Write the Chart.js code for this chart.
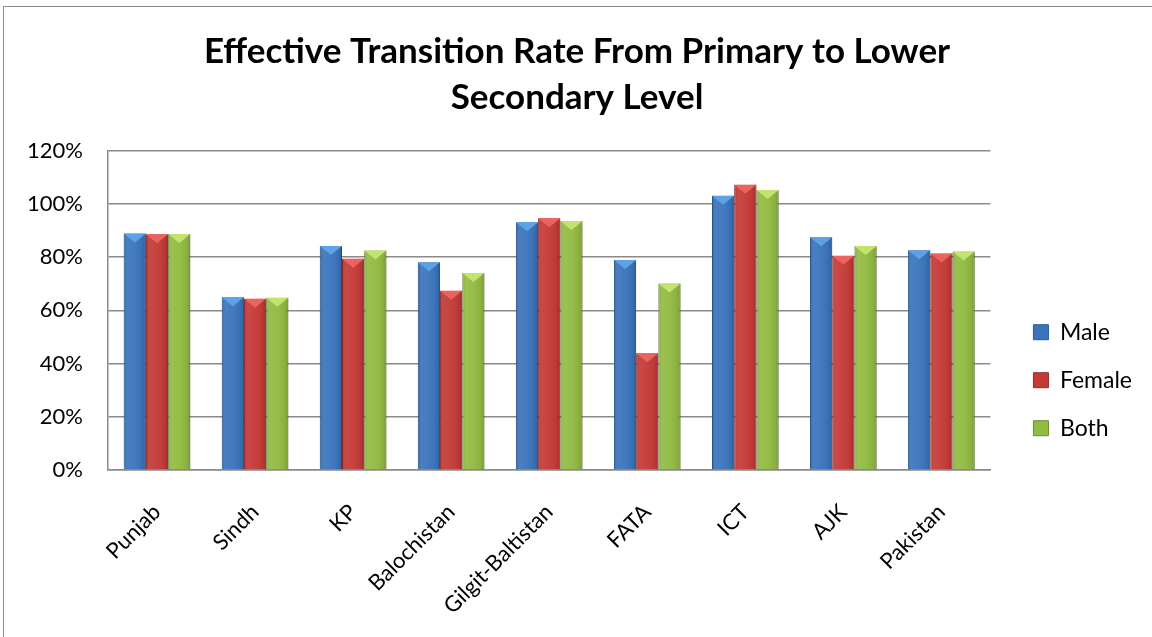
<!DOCTYPE html>
<html>
<head>
<meta charset="utf-8">
<script src="https://cdn.jsdelivr.net/npm/chart.js@4.4.1/dist/chart.umd.min.js"></script>
<style>
  html, body { margin: 0; padding: 0; background: #fff; overflow: hidden; }
  #wrap { position: absolute; left: 3px; top: 6px; width: 1160px; height: 640px; border: 1px solid #8c8c8c; box-sizing: border-box; }
  #box { position: absolute; left: 0; top: 0; width: 1152px; height: 637px; }
</style>
</head>
<body>
<div id="wrap"></div>
<div id="box"><canvas id="chart"></canvas></div>
<script>
// valeurs
const regions = ['Punjab', 'Sindh', 'KP', 'Balochistan', 'Gilgit-Baltistan', 'FATA', 'ICT', 'AJK', 'Pakistan'];
const male   = [88.9, 64.9, 84.2, 78.1, 93.1, 78.9, 103.1, 87.5, 82.6];
const female = [88.6, 64.4, 79.4, 67.4, 94.6, 43.9, 107.2, 80.5, 81.4];
const both   = [88.7, 64.7, 82.5, 74.0, 93.6, 70.1, 105.2, 84.2, 82.1];
const yTicks = [0, 20, 40, 60, 80, 100, 120];

const FONT = 'Lato, "Open Sans", sans-serif';

// petit effet biseauté façon Excel, dessiné sur chaque barre
const bevelPlugin = {
  id: 'bevel',
  afterDatasetDraw(chart, args) {
    const ctx = chart.ctx;
    const meta = args.meta;
    const light = meta._dataset.bevelLight;
    meta.data.forEach(bar => {
      const w = bar.width, l = bar.x - w / 2, r = bar.x + w / 2;
      const top = bar.y, bot = bar.base;
      ctx.save();
      const g = ctx.createLinearGradient(l, 0, r, 0);
      g.addColorStop(0, 'rgba(0,0,0,0.10)');
      g.addColorStop(0.15, 'rgba(255,255,255,0.08)');
      g.addColorStop(0.5, 'rgba(255,255,255,0.04)');
      g.addColorStop(0.85, 'rgba(0,0,0,0.06)');
      g.addColorStop(1, 'rgba(0,0,0,0.20)');
      ctx.fillStyle = g;
      ctx.fillRect(l, top, w, bot - top);
      // triangle du haut
      ctx.beginPath();
      ctx.moveTo(l, top);
      ctx.lineTo(r, top);
      ctx.lineTo(bar.x, top + 9);
      ctx.closePath();
      ctx.fillStyle = light;
      ctx.fill();
      ctx.restore();
    });
  }
};

new Chart(document.getElementById('chart'), {
  type: 'bar',
  data: {
    labels: regions,
    datasets: [
      { label: 'Male', data: male, backgroundColor: '#3b74bd', borderColor: '#2c5a93', borderWidth: 1, bevelLight: '#5ea2e6' },
      { label: 'Female', data: female, backgroundColor: '#c43a37', borderColor: '#93292a', borderWidth: 1, bevelLight: '#ec625d' },
      { label: 'Both', data: both, backgroundColor: '#92bb43', borderColor: '#6c8c30', borderWidth: 1, bevelLight: '#c2e46c' }
    ]
  },
  options: {
    responsive: true,
    maintainAspectRatio: false,
    animation: false,
    datasets: { bar: { categoryPercentage: 0.68, barPercentage: 1.0 } },
    layout: { padding: { left: 12, right: 10, top: 29, bottom: 0 } },
    plugins: {
      title: {
        display: true,
        text: ['Effective Transition Rate From Primary to Lower', 'Secondary Level'],
        font: { family: FONT, size: 35, weight: 'bold', lineHeight: 1.31 },
        color: '#000',
        padding: { top: 0, bottom: 30 }
      },
      legend: {
        position: 'right',
        // titre vide : sert juste à descendre les entrées
        title: { display: true, text: '', padding: { top: 80, bottom: 0 } },
        labels: {
          font: { family: FONT, size: 23 },
          color: '#000',
          boxWidth: 15,
          boxHeight: 15,
          padding: 25
        }
      },
      tooltip: { enabled: false }
    },
    scales: {
      y: {
        min: 0,
        max: 120,
        afterBuildTicks: axis => { axis.ticks = yTicks.map(v => ({ value: v })); },
        afterFit: axis => { axis.width = 96; },
        ticks: {
          callback: v => v + '%',
          font: { family: FONT, size: 22 },
          color: '#000',
          padding: 25
        },
        grid: { color: '#8a8a8a', lineWidth: 1.5, drawTicks: false },
        border: { color: '#8a8a8a', width: 1.5 }
      },
      // axe vide à droite, seulement pour l'espace avant la légende
      gap: {
        type: 'linear',
        axis: 'y',
        position: 'right',
        display: true,
        afterFit: axis => { axis.width = 18; },
        ticks: { display: false },
        grid: { display: false, drawTicks: false },
        border: { display: false }
      },
      x: {
        afterFit: axis => { axis.height = 167; },
        ticks: {
          font: { family: FONT, size: 22 },
          color: '#000',
          maxRotation: 45,
          minRotation: 45,
          padding: 29
        },
        grid: { display: false, drawTicks: false },
        border: { color: '#8a8a8a', width: 1.5 }
      }
    }
  },
  plugins: [bevelPlugin]
});
</script>
</body>
</html>
